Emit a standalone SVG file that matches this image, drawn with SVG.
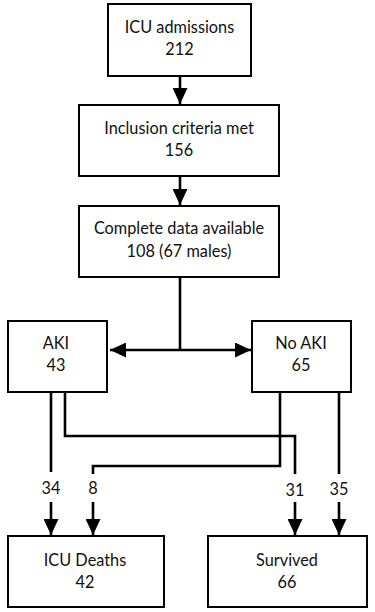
<svg xmlns="http://www.w3.org/2000/svg" width="375" height="612" viewBox="0 0 375 612">
<style>
.box{fill:#fff;stroke:#000;stroke-width:2}
.t{font-family:Lato,"Open Sans","Liberation Sans",sans-serif;font-size:16.3px;fill:#111;text-anchor:middle}
.c{fill:none;stroke:#000;stroke-width:2.6;stroke-linejoin:miter}
</style>
<defs>
<marker id="ah" markerUnits="userSpaceOnUse" markerWidth="17" markerHeight="15" viewBox="0 0 17 15" refX="16" refY="7.5" orient="auto">
<path d="M0,0 L16,7.5 L0,15 Z" fill="#000"/>
</marker>
</defs>
<rect width="375" height="612" fill="#fff"/>
<g id="connectors">
<line class="c" x1="180" y1="76" x2="180" y2="104" marker-end="url(#ah)"/>
<line class="c" x1="180" y1="176" x2="180" y2="205" marker-end="url(#ah)"/>
<line class="c" x1="180" y1="277" x2="180" y2="350"/>
<line class="c" x1="180" y1="350" x2="110" y2="350" marker-end="url(#ah)"/>
<line class="c" x1="180" y1="350" x2="251" y2="350" marker-end="url(#ah)"/>
<line class="c" x1="51" y1="392" x2="51" y2="472"/>
<line class="c" x1="51" y1="502" x2="51" y2="535" marker-end="url(#ah)"/>
<polyline class="c" points="65,392 65,436 295,436 295,474"/>
<line class="c" x1="295" y1="502" x2="295" y2="535" marker-end="url(#ah)"/>
<polyline class="c" points="280,392 280,466 93,466 93,474"/>
<line class="c" x1="93" y1="502" x2="93" y2="535" marker-end="url(#ah)"/>
<line class="c" x1="339" y1="392" x2="339" y2="474"/>
<line class="c" x1="339" y1="502" x2="339" y2="535" marker-end="url(#ah)"/>
<text class="t" x="51" y="494">34</text>
<text class="t" x="93" y="494">8</text>
<text class="t" x="295" y="496">31</text>
<text class="t" x="339" y="495">35</text>
</g>
<g id="n1"><rect class="box" x="108" y="4" width="143" height="72"/><text class="t" x="179.5" y="33">ICU admissions</text><text class="t" x="179.5" y="55">212</text></g>
<g id="n2"><rect class="box" x="79" y="105" width="200" height="71"/><text class="t" x="179" y="134">Inclusion criteria met</text><text class="t" x="179" y="156">156</text></g>
<g id="n3"><rect class="box" x="79" y="206" width="200" height="71"/><text class="t" x="179" y="234">Complete data available</text><text class="t" x="179" y="257">108 (67 males)</text></g>
<g id="n4"><rect class="box" x="8" y="321" width="99" height="71"/><text class="t" x="56" y="349">AKI</text><text class="t" x="56" y="371">43</text></g>
<g id="n5"><rect class="box" x="252" y="321" width="99" height="71"/><text class="t" x="301" y="349">No AKI</text><text class="t" x="301" y="371">65</text></g>
<g id="n6"><rect class="box" x="8" y="536" width="156" height="71"/><text class="t" x="85" y="566">ICU Deaths</text><text class="t" x="85" y="588">42</text></g>
<g id="n7"><rect class="box" x="208" y="536" width="159" height="71"/><text class="t" x="287" y="566">Survived</text><text class="t" x="287" y="588">66</text></g>
</svg>
